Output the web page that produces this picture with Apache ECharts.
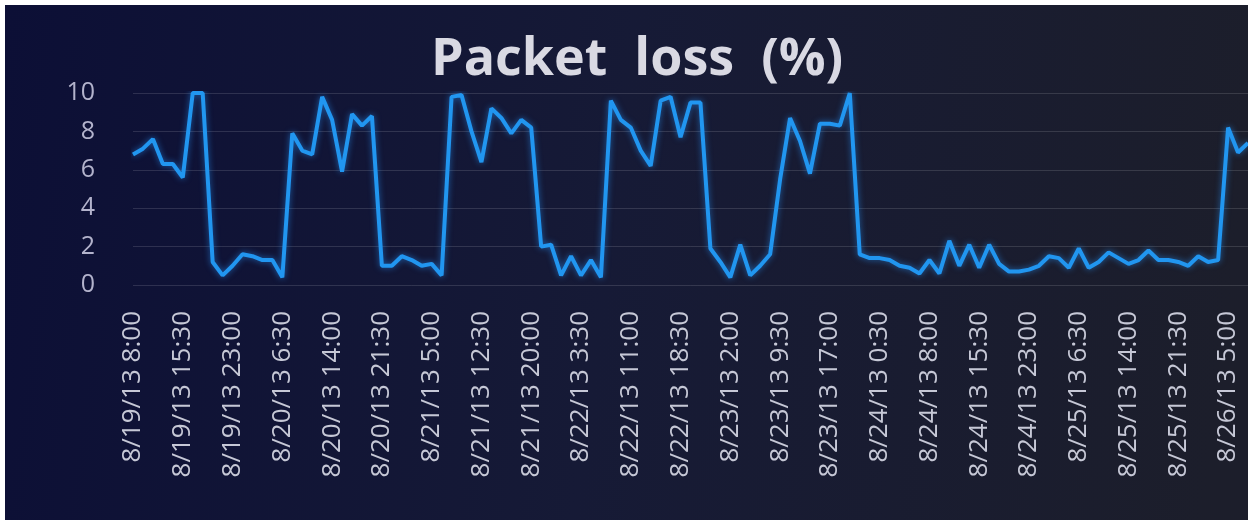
<!DOCTYPE html>
<html>
<head>
<meta charset="utf-8">
<script src="https://cdn.jsdelivr.net/npm/echarts@6/dist/echarts.min.js"></script>
<style>
html,body{margin:0;padding:0;background:#ffffff;width:1248px;height:520px;overflow:hidden;}
#chart{position:absolute;left:5px;top:5px;width:1243px;height:515px;}
</style>
</head>
<body>
<div id="chart"></div>
<script>
// Time axis: first sample and step between samples
const startLabel = {month: 8, day: 19, year: 13, hour: 8, minute: 0};
const stepMinutes = 90;

// Packet loss (%), one value per 1.5 h sample
const packetLoss = [
  6.8, 7.1, 7.6, 6.3, 6.3, 5.6, 10, 10, 1.2, 0.5,
  1.0, 1.6, 1.5, 1.3, 1.3, 0.4, 7.9, 7.0, 6.8, 9.8,
  8.6, 5.9, 8.9, 8.3, 8.8, 1.0, 1.0, 1.5, 1.3, 1.0,
  1.1, 0.5, 9.8, 9.9, 8.0, 6.4, 9.2, 8.7, 7.9, 8.6,
  8.2, 2.0, 2.1, 0.5, 1.5, 0.5, 1.3, 0.4, 9.6, 8.6,
  8.2, 7.0, 6.2, 9.6, 9.8, 7.7, 9.5, 9.5, 1.9, 1.2,
  0.4, 2.1, 0.5, 1.0, 1.6, 5.5, 8.7, 7.5, 5.8, 8.4,
  8.4, 8.3, 10, 1.6, 1.4, 1.4, 1.3, 1.0, 0.9, 0.6,
  1.3, 0.6, 2.3, 1.0, 2.1, 0.9, 2.1, 1.1, 0.7, 0.7,
  0.8, 1.0, 1.5, 1.4, 0.9, 1.9, 0.9, 1.2, 1.7, 1.4,
  1.1, 1.3, 1.8, 1.3, 1.3, 1.2, 1.0, 1.5, 1.2, 1.3,
  8.2, 6.9, 7.4
];

// y-axis ticks
const yTicks = [0, 2, 4, 6, 8, 10];

// Build category labels (M/D/YY H:MM)
const categories = [];
{
  let d = startLabel.day, h = startLabel.hour, m = startLabel.minute;
  for (let i = 0; i < packetLoss.length; i++) {
    categories.push(startLabel.month + '/' + d + '/' + startLabel.year + ' ' + h + ':' + (m < 10 ? '0' + m : m));
    m += stepMinutes;
    while (m >= 60) { m -= 60; h += 1; }
    while (h >= 24) { h -= 24; d += 1; }
  }
}

const chart = echarts.init(document.getElementById('chart'), null, {renderer: 'canvas'});
chart.setOption({
  backgroundColor: {
    type: 'linear', x: 0, y: 0, x2: 1, y2: 0.3,
    colorStops: [
      {offset: 0, color: '#0c0f36'},
      {offset: 0.5, color: '#161a36'},
      {offset: 1, color: '#1c1e2b'}
    ]
  },
  animation: false,
  title: {
    text: 'Packet  loss  (%)',
    left: 421,
    top: 24,
    textStyle: {
      color: '#d9d9e3',
      fontFamily: 'Open Sans',
      fontWeight: 'bold',
      fontSize: 52
    }
  },
  grid: {left: 128, right: 0, top: 88, bottom: 235, containLabel: false},
  xAxis: {
    type: 'category',
    data: categories,
    boundaryGap: false,
    axisLine: {show: false},
    axisTick: {show: false},
    axisLabel: {
      interval: 4,
      rotate: 90,
      margin: 26,
      color: '#c6c8d6',
      fontFamily: 'Open Sans',
      fontSize: 26
    },
    splitLine: {show: false}
  },
  yAxis: {
    type: 'value',
    min: yTicks[0],
    max: yTicks[yTicks.length - 1],
    interval: 2,
    axisLine: {show: false},
    axisTick: {show: false},
    axisLabel: {
      color: '#b3b3cc',
      fontFamily: 'Open Sans',
      fontSize: 25,
      margin: 38
    },
    splitLine: {lineStyle: {color: 'rgba(255,255,255,0.13)', width: 1}}
  },
  series: [{
    type: 'line',
    data: packetLoss,
    symbol: 'none',
    lineStyle: {
      color: '#2196f0',
      width: 4,
      shadowColor: 'rgba(40,150,255,0.6)',
      shadowBlur: 6
    }
  }]
});
</script>
</body>
</html>
